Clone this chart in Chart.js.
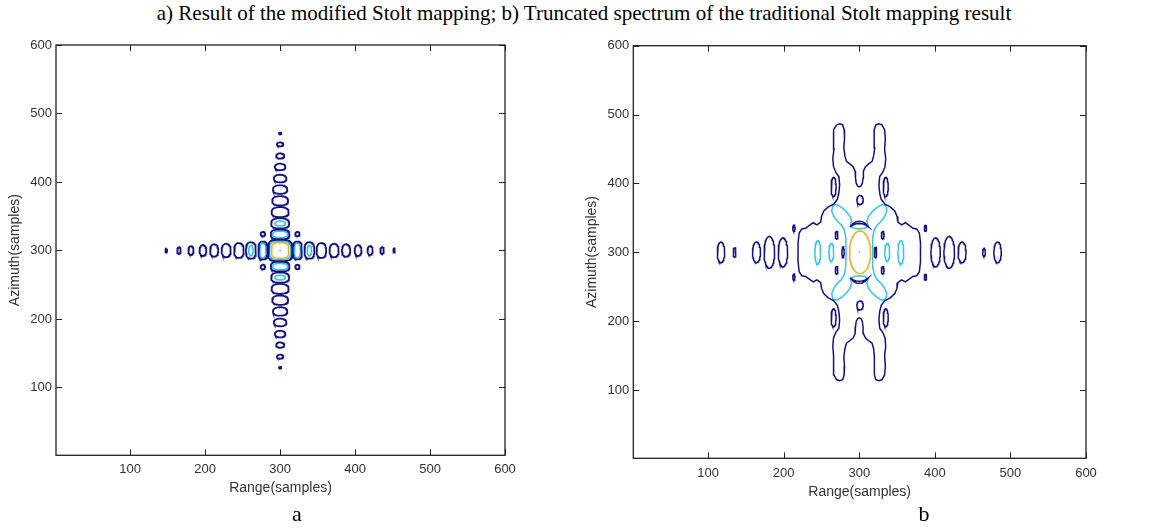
<!DOCTYPE html>
<html lang="en">
<head>
<meta charset="UTF-8" />
<title>Stolt mapping contours</title>
<script src="https://cdn.jsdelivr.net/npm/chart.js"></script>
<style>
  body { margin: 0; width: 1168px; height: 528px; background: #fff; position: relative; overflow: hidden; }
  #title { position: absolute; left: 0; top: 1px; width: 1168px; text-align: center; font: 21px/24px "Liberation Serif", "Times New Roman", serif; color: #000; white-space: nowrap; }
  .panel { position: absolute; top: 0; width: 584px; height: 528px; }
  .tag { position: absolute; top: 503px; width: 40px; text-align: center; font: 22px/22px "Liberation Serif", "Times New Roman", serif; color: #000; }
</style>
</head>
<body>
<div id="title">a) Result of the modified Stolt mapping; b) Truncated spectrum of the traditional Stolt mapping result</div>
<div class="panel" style="left:0"><canvas id="chartA"></canvas></div>
<div class="panel" style="left:584px"><canvas id="chartB"></canvas></div>
<div class="tag" style="left:277px">a</div>
<div class="tag" style="left:904px">b</div>
<script>
// axis ticks (samples)
const tickValues = [100, 200, 300, 400, 500, 600];

// contour rings: [centre range, centre azimuth, half width, half height, squareness]
// (a) modified Stolt mapping
const ringsA_low = [
  // range sidelobes along azimuth 300
  [148, 300, 1.2, 3, 2], [165, 300, 2.4, 4.9, 2], [181, 300, 3.5, 6.5, 2], [197, 300, 4.6, 8, 2],
  [212, 300, 5.5, 9, 2.2], [228, 300, 6.1, 9.8, 2.2], [245, 300, 6.4, 10.8, 2.4], [261, 300, 6.6, 12, 2.6],
  [277, 300, 6, 13, 3], [323, 300, 6, 13, 3], [339, 300, 6.6, 12, 2.6], [355, 300, 6.4, 10.8, 2.4],
  [372, 300, 6.1, 9.8, 2.2], [388, 300, 5.5, 9, 2.2], [404, 300, 4.6, 8, 2], [420, 300, 3.5, 6.5, 2],
  [436, 300, 2.4, 4.9, 2], [452, 300, 1.2, 3, 2],
  // azimuth sidelobes along range 300
  [300, 471, 1.6, 1.1, 2], [300, 455, 4.3, 2.9, 2], [300, 438, 5.5, 3.9, 2], [300, 422, 7, 4.8, 2.2],
  [300, 405, 8.4, 5.6, 2.2], [300, 389, 9.6, 6.2, 2.3], [300, 372.5, 10.6, 6.8, 2.4], [300, 356, 11.4, 7.2, 2.5],
  [300, 339.5, 12, 7.4, 2.6], [300, 323.5, 12.4, 7, 3], [300, 276.5, 12.4, 7, 3], [300, 260.5, 12, 7.4, 2.6],
  [300, 244, 11.4, 7.2, 2.5], [300, 227.5, 10.6, 6.8, 2.4], [300, 211, 9.6, 6.2, 2.3], [300, 195, 8.4, 5.6, 2.2],
  [300, 178, 7, 4.8, 2.2], [300, 162, 5.5, 3.9, 2], [300, 145, 4.3, 2.9, 2], [300, 129, 1.6, 1.1, 2],
  // diagonal lobes and main lobe
  [277, 324, 3, 3.2, 2], [323, 324, 3, 3.2, 2], [277, 276, 3, 3.2, 2], [323, 276, 3, 3.2, 2],
  [300, 300, 16, 15.5, 4]
];
const ringsA_mid = [
  [300, 300, 14, 13.5, 3.5], [277, 300, 4, 10.5, 2.6], [323, 300, 4, 10.5, 2.6],
  [261, 300, 3, 7.5, 2], [339, 300, 3, 7.5, 2], [300, 323.5, 10, 4.6, 2.6], [300, 276.5, 10, 4.6, 2.6],
  [300, 339.5, 7, 3.5, 2], [300, 260.5, 7, 3.5, 2]
];
const ringsA_high = [[300, 300, 11.5, 11.5, 3.2]];

// (b) traditional Stolt mapping, truncated spectrum
const ringsB_low = [
  [117, 300, 4.9, 15, 2], [135, 300, 1.8, 7, 2], [164, 300, 5.3, 15, 2], [181, 300, 7, 23, 2], [199, 300, 6.2, 21, 2],
  [401, 300, 6.2, 21, 2], [419, 300, 7, 23, 2], [436, 300, 5.3, 15, 2], [465, 300, 1.8, 6, 2], [483, 300, 4.9, 15, 2],
  [266, 395, 3.3, 14, 2], [335, 395, 3.3, 14, 2], [266, 205, 3.3, 13, 2], [335, 205, 3.3, 13, 2],
  [301, 376, 4.2, 6.5, 2], [301, 223, 4.2, 6.5, 2],
  [213.5, 335, 1.5, 4.5, 2], [213.5, 264, 1.5, 4.5, 2], [387.5, 335, 1.5, 4.5, 2], [387.5, 264, 1.5, 4.5, 2],
  [270, 325, 1.8, 5.5, 2], [270, 274, 1.8, 5.5, 2], [331, 325, 1.8, 5.5, 2], [331, 274, 1.8, 5.5, 2],
  [278.5, 300, 1.5, 8, 2], [321.5, 300, 1.5, 8, 2]
];
const ringsB_mid = [[245, 300, 3.8, 17, 2], [263, 300, 3.2, 13, 2], [337, 300, 3.2, 13, 2], [355, 300, 3.8, 17, 2]];
const ringsB_high = [[301, 300, 14, 31, 2]];

// outer sidelobe envelope with its four arms
const outlineB = [
  [270, 485], [274, 486.5], [278, 485], [280, 478], [280.5, 465], [279.5, 452], [281, 440], [283, 432],
  [288, 428], [292, 424], [294.5, 418], [295, 408], [296, 400], [298, 396], [300, 395], [302, 396],
  [304, 400], [305, 408], [305.5, 418], [308, 424], [312, 428], [317, 432], [319, 440], [320.5, 452],
  [319.5, 465], [320, 478], [322, 485], [326, 486.5], [330, 485], [333.5, 478], [334.5, 465], [333.5, 450],
  [335, 436], [334, 424], [331, 416], [327, 410], [326, 398], [327, 386], [329, 377], [334, 370],
  [341, 366], [347, 360], [350, 352], [351, 344], [356, 340], [361, 343], [366, 339], [371, 335],
  [376, 334], [379.5, 328], [381, 314], [381, 300], [381, 286], [379.5, 272], [376, 266], [371, 265],
  [366, 261], [361, 257], [356, 260], [351, 256], [350, 248], [347, 240], [341, 234], [334, 230],
  [329, 223], [327, 214], [326, 202], [327, 190], [331, 184], [334, 176], [335, 164], [333.5, 150],
  [334.5, 135], [333.5, 122], [330, 115], [326, 113.5], [322, 115], [320, 122], [319.5, 135], [320.5, 148],
  [319, 160], [317, 168], [312, 172], [308, 176], [305.5, 182], [305, 192], [304, 200], [302, 204],
  [300, 205], [298, 204], [296, 200], [295, 192], [294.5, 182], [292, 176], [288, 172], [283, 168],
  [281, 160], [279.5, 148], [280.5, 135], [280, 122], [278, 115], [274, 113.5], [270, 115], [266.5, 122],
  [265.5, 135], [266.5, 150], [265, 164], [266, 176], [269, 184], [273, 190], [274, 202], [273, 214],
  [271, 223], [266, 230], [259, 234], [253, 240], [250, 248], [249, 256], [244, 260], [239, 257],
  [234, 261], [229, 265], [224, 266], [220.5, 272], [219, 286], [219, 300], [219, 314], [220.5, 328],
  [224, 334], [229, 335], [234, 339], [239, 343], [244, 340], [249, 344], [250, 352], [253, 360],
  [259, 366], [266, 370], [271, 377], [273, 386], [274, 398], [273, 410], [269, 416], [266, 424],
  [265, 436], [266.5, 450], [265.5, 465], [266.5, 478], [270, 485]
];
// thin arcs just above and below the main lobe
const crescentTopB = [
  [288, 337], [292, 342], [296, 344.5], [300, 345], [304, 344.5], [308, 342], [312, 337],
  [308, 340], [304, 341.5], [300, 342], [296, 341.5], [292, 340], [288, 337]
];
const crescentBottomB = [
  [288, 263], [292, 258], [296, 255.5], [300, 255], [304, 255.5], [308, 258], [312, 263],
  [308, 260], [304, 258.5], [300, 258], [296, 258.5], [292, 260], [288, 263]
];
// ring hugging the main lobe, with four leaf-shaped diagonal petals
const petalsB = [
  [300, 334], [293, 335], [288, 338], [290, 345], [288, 352], [283, 359], [277, 365], [270, 369.5],
  [265, 367.5], [263.5, 360], [266.5, 352], [271, 345], [276, 340], [280, 333], [282, 322], [282.5, 300],
  [282, 278], [280, 267], [276, 260], [271, 255], [266.5, 248], [263.5, 240], [265, 232.5], [270, 230.5],
  [277, 235], [283, 241], [288, 248], [290, 255], [288, 262], [293, 265], [300, 266], [307, 265],
  [312, 262], [310, 255], [312, 248], [317, 241], [323, 235], [330, 230.5], [335, 232.5], [336.5, 240],
  [333.5, 248], [329, 255], [324, 260], [320, 267], [318, 278], [317.5, 300], [318, 322], [320, 333],
  [324, 340], [329, 345], [333.5, 352], [336.5, 360], [335, 367.5], [330, 369.5], [323, 365], [317, 359],
  [312, 352], [310, 345], [312, 338], [307, 335], [300, 334]
];
const peakPoint = [[300, 300]];

const NAVY = '#14137c';
const CYAN = '#38c4e8';
const GOLD = '#efb42a';

Chart.defaults.font.family = '"Liberation Sans", Arial, sans-serif';

// closed outline of one ring, as scatter points
function ring(cx, cy, rx, ry, p) {
  const pts = [];
  const n = 60;
  const e = 2 / p;
  for (let i = 0; i <= n; i++) {
    const t = (i / n) * 2 * Math.PI;
    const c = Math.cos(t), s = Math.sin(t);
    pts.push({
      x: cx + rx * Math.sign(c) * Math.pow(Math.abs(c), e),
      y: cy + ry * Math.sign(s) * Math.pow(Math.abs(s), e)
    });
  }
  return pts;
}

// one contour level: rings and polylines joined with gaps
function level(rings, polys) {
  const data = [];
  rings.forEach(r => { data.push(...ring(...r)); data.push({ x: null, y: null }); });
  polys.forEach(poly => {
    poly.forEach(([x, y]) => data.push({ x, y }));
    data.push({ x: null, y: null });
  });
  return data;
}

function lineSet(data, color, width) {
  return { data, borderColor: color, borderWidth: width, showLine: true, pointRadius: 0, tension: 0, spanGaps: false };
}

// MATLAB style box with inward ticks on all four sides
const boxTicks = {
  id: 'boxTicks',
  afterDatasetsDraw(chart) {
    const { ctx, chartArea: a, scales: { x, y } } = chart;
    ctx.save();
    ctx.strokeStyle = '#222';
    ctx.lineWidth = 1;
    ctx.beginPath();
    tickValues.forEach(v => {
      const px = Math.round(x.getPixelForValue(v)) + 0.5;
      ctx.moveTo(px, a.bottom); ctx.lineTo(px, a.bottom - 6);
      ctx.moveTo(px, a.top); ctx.lineTo(px, a.top + 6);
      const py = Math.round(y.getPixelForValue(v)) + 0.5;
      ctx.moveTo(a.left, py); ctx.lineTo(a.left + 6, py);
      ctx.moveTo(a.right, py); ctx.lineTo(a.right - 6, py);
    });
    ctx.stroke();
    ctx.lineWidth = 1.3;
    ctx.strokeRect(a.left, a.top, a.right - a.left, a.bottom - a.top);
    ctx.restore();
  }
};

function makeChart(id, datasets, box) {
  return new Chart(document.getElementById(id), {
    type: 'scatter',
    data: { datasets },
    plugins: [boxTicks],
    options: {
      responsive: true,
      maintainAspectRatio: false,
      animation: false,
      events: [],
      layout: { padding: box.padding },
      plugins: { legend: { display: false }, tooltip: { enabled: false } },
      scales: {
        x: {
          type: 'linear', min: 1, max: 600,
          afterBuildTicks: s => { s.ticks = tickValues.map(v => ({ value: v })); },
          afterFit: s => { s.height = box.xHeight; },
          grid: { display: false, drawTicks: false },
          border: { display: false },
          ticks: { padding: box.xTickPad, color: '#333', font: { size: 13 }, maxRotation: 0, autoSkip: false },
          title: { display: true, text: 'Range(samples)', color: '#333', font: { size: 14 }, padding: { top: 0, bottom: box.xTitlePad } }
        },
        y: {
          type: 'linear', min: 1, max: 600,
          afterBuildTicks: s => { s.ticks = tickValues.map(v => ({ value: v })); },
          afterFit: s => { s.width = box.yWidth; },
          grid: { display: false, drawTicks: false },
          border: { display: false },
          ticks: { padding: 4, color: '#333', font: { size: 13 }, autoSkip: false },
          title: { display: true, text: 'Azimuth(samples)', color: '#333', font: { size: 14 }, padding: { top: box.yTitlePad, bottom: 0 } }
        }
      }
    }
  });
}

makeChart('chartA', [
  lineSet(level(ringsA_low, []), NAVY, 1.8),
  lineSet(level(ringsA_mid, []), CYAN, 1.5),
  lineSet(level(ringsA_high, []), GOLD, 1.5),
  { data: peakPoint.map(([x, y]) => ({ x, y })), pointRadius: 0.8, backgroundColor: '#888', borderWidth: 0 }
], { padding: { left: 0, right: 79, top: 45, bottom: 30.7 }, xHeight: 42, yWidth: 56, xTickPad: 6, xTitlePad: 1, yTitlePad: 6.5 });

makeChart('chartB', [
  lineSet(level(ringsB_low, [outlineB, crescentTopB, crescentBottomB]), NAVY, 1.5),
  lineSet(level(ringsB_mid, [petalsB]), CYAN, 1.5),
  lineSet(level(ringsB_high, []), GOLD, 1.6),
  { data: peakPoint.map(([x, y]) => ({ x, y })), pointRadius: 0.8, backgroundColor: '#888', borderWidth: 0 }
], { padding: { left: 0, right: 82, top: 45.7, bottom: 27.7 }, xHeight: 42, yWidth: 49.3, xTickPad: 7, xTitlePad: 0, yTitlePad: 0 });
</script>
</body>
</html>
